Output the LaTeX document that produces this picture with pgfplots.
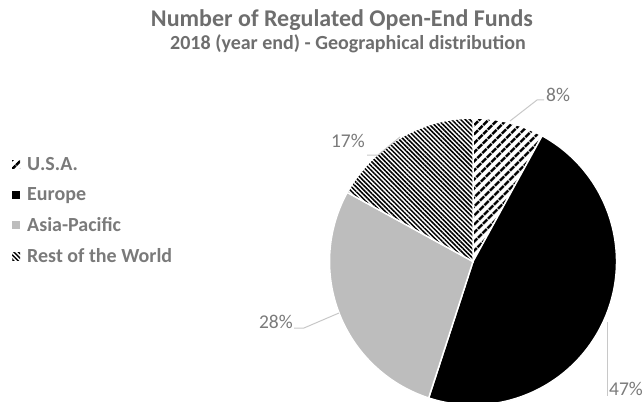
\documentclass[border=0pt]{standalone}
\usepackage{fontspec}
\setmainfont{Carlito}
\usepackage{pgfplots}
\pgfplotsset{compat=1.18}
\usetikzlibrary{patterns.meta}

\definecolor{titlegray}{HTML}{6E6E6E}
\definecolor{labelgray}{HTML}{7A7A7A}
\definecolor{leadergray}{HTML}{C8C8C8}
\definecolor{asiagray}{HTML}{BDBDBD}

\tikzset{
  usa/.style={pattern={Lines[angle=45,distance=6.5pt,line width=2.8pt]},pattern color=black},
  eur/.style={fill=black},
  asia/.style={fill=asiagray},
  rest/.style={pattern={Lines[angle=-45,distance=3.2pt,line width=1.5pt]},pattern color=black},
  pct/.style={font=\fontsize{19.5}{23}\selectfont, text=labelgray, inner sep=0pt},
  leader/.style={draw=leadergray, line width=1pt},
}

% pie centre and radius, in pixels of the 644x401 canvas
\def\cx{473}\def\cy{261.5}\def\rad{143.5}

\begin{document}
\begin{tikzpicture}
\begin{axis}[
  scale only axis, width=644pt, height=401pt,
  xmin=0, xmax=644, ymin=0, ymax=401, y dir=reverse,
  hide axis,
  legend cell align=left,
  legend image code/.code={\path[#1, draw=none] (0pt,-4pt) rectangle (8pt,4pt);},
  legend style={draw=none, fill=none, at={(axis cs:9,153)}, anchor=north west,
    font=\fontsize{20}{24}\selectfont\bfseries, text=labelgray,
    row sep=11.5pt, column sep=5pt},
]
\addlegendimage{usa}\addlegendentry{U.S.A.}
\addlegendimage{eur}\addlegendentry{Europe}
\addlegendimage{asia}\addlegendentry{Asia-Pacific}
\addlegendimage{rest}\addlegendentry{Rest of the World}

% shares in percent, clockwise from 12 o'clock
\pgfmathsetmacro\startang{90}
\foreach \p/\sty in {8/usa,47/eur,28/asia,17/rest}{%
  \pgfmathsetmacro\endang{\startang-3.6*\p}%
  \edef\wedge{\noexpand\path[\sty, draw=white, line width=1.5pt] (axis cs:\cx,\cy) -- ++(\startang:\rad pt) arc[start angle=\startang, end angle=\endang, radius=\rad pt] -- cycle;}%
  \wedge
  \global\let\startang\endang
}

\node[anchor=base, inner sep=0pt, font=\fontsize{24}{28}\selectfont\bfseries, text=titlegray]
  at (axis cs:342,27) {Number of Regulated Open-End Funds};
\node[anchor=base, inner sep=0pt, font=\fontsize{20}{24}\selectfont\bfseries, text=titlegray]
  at (axis cs:348,50) {2018 (year end) - Geographical distribution};

\draw[leader] (axis cs:510,121) -- (axis cs:537,100) -- (axis cs:544,100);
\node[pct, anchor=base west] at (axis cs:546,102) {8\%};
\draw[leader] (axis cs:367,155) -- (axis cs:378,155) -- (axis cs:400,137);
\node[pct, anchor=base east] at (axis cs:365,147) {17\%};
\draw[leader] (axis cs:294,328) -- (axis cs:304,328) -- (axis cs:339,313);
\node[pct, anchor=base east] at (axis cs:293,328) {28\%};
\draw[leader] (axis cs:607,322) -- (axis cs:607,396);
\node[pct, anchor=base west] at (axis cs:609,395) {47\%};
\end{axis}
\pgfresetboundingbox
\useasboundingbox (0,0) rectangle (644pt,401pt);
\end{tikzpicture}
\end{document}
